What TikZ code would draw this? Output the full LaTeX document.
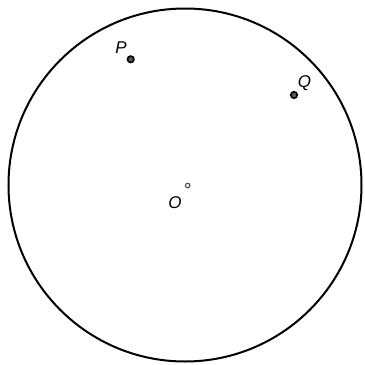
\documentclass[tikz,border=0pt]{standalone}
\usepackage{fontspec}
\setmainfont{Liberation Sans}
\begin{document}
\begin{tikzpicture}[x=1pt,y=-1pt,
  lbl/.style={font=\fontsize{17}{17}\selectfont\itshape, inner sep=0pt, text=black},
  dotpt/.style={circle, draw=black, fill=black!65, line width=1.6pt, minimum size=6.5pt, inner sep=0pt},
  centrept/.style={circle, draw=black!70, fill=white, line width=1.1pt, minimum size=4.5pt, inner sep=0pt}]
\useasboundingbox (0,0) rectangle (365,365);
\fill[white] (0,0) rectangle (365,365);
\node[circle, draw=black, line width=2pt, minimum size=353pt, inner sep=0pt] (C) at (185,185) {};
\node[dotpt] (P) at (130.7,59.3) {};
\node[lbl] (Plab) at (121,48) {P};
\node[dotpt] (Q) at (294,95) {};
\node[lbl] (Qlab) at (304.5,83.5) {Q};
\node[centrept] (O) at (187.7,185.5) {};
\node[lbl] (Olab) at (175,203) {O};
\end{tikzpicture}
\end{document}
